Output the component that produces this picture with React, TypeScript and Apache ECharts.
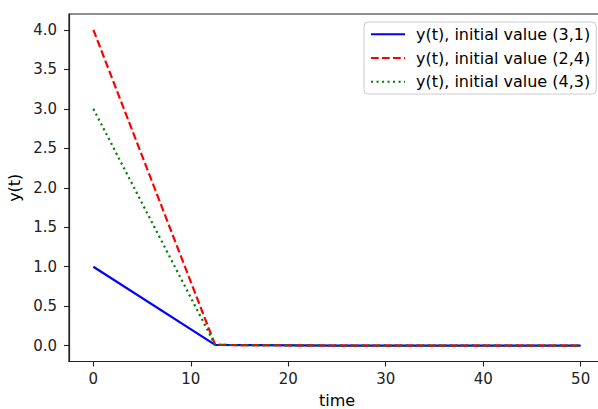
import React, { useEffect, useRef } from "react";
import * as echarts from "echarts";

const timePoints = [0, 12.5, 25, 37.5, 50];
const seriesNames = [
  "y(t), initial value (3,1)",
  "y(t), initial value (2,4)",
  "y(t), initial value (4,3)",
];
const valuesA = [1.0, 0.01, 0.002, 0.0005, 0.0001];
const valuesB = [4.0, 0.01, 0.002, 0.0005, 0.0001];
const valuesC = [3.0, 0.01, 0.002, 0.0005, 0.0001];
const xTicks = [0, 10, 20, 30, 40, 50];
const yTicks = [0, 0.5, 1, 1.5, 2, 2.5, 3, 3.5, 4];

const FONT = "DejaVu Sans";

export default function App() {
  const ref = useRef<HTMLDivElement>(null);
  useEffect(() => {
    document.body.style.margin = "0";
    const chart = echarts.init(ref.current!, null, { renderer: "svg" });
    const pair = (vals: number[]) => timePoints.map((t, i) => [t, vals[i]]);
    const axisColor = "#222";
    chart.setOption({
      animation: false,
      backgroundColor: "#fff",
      grid: {
        left: 69,
        top: 14,
        right: 0,
        bottom: 47.5,
        show: true,
        borderColor: axisColor,
        borderWidth: 1.2,
        containLabel: false,
        outerBoundsMode: "none",
      },
      legend: {
        orient: "vertical",
        left: 364,
        top: 22,
        padding: [4.3, 6, 4.3, 6],
        itemWidth: 34,
        itemHeight: 16,
        itemGap: 7.7,
        itemStyle: { opacity: 0 },
        backgroundColor: "rgba(255,255,255,0.8)",
        borderColor: "#cccccc",
        borderWidth: 1,
        borderRadius: 4,
        textStyle: {
          fontFamily: FONT,
          fontSize: 16,
          lineHeight: 16,
          color: "#000",
          padding: [0, 0, 0, 6],
        },
        data: seriesNames,
      },
      xAxis: {
        type: "value",
        min: -2.5,
        max: 52.5,
        name: "time",
        nameLocation: "middle",
        nameGap: 31,
        nameTextStyle: { fontFamily: FONT, fontSize: 16, lineHeight: 16, color: "#000" },
        splitLine: { show: false },
        axisLine: { show: true, onZero: false, lineStyle: { color: axisColor, width: 1.2 } },
        axisTick: {
          show: true,
          length: 5,
          customValues: xTicks,
          lineStyle: { color: axisColor, width: 1.1 },
        },
        axisLabel: {
          customValues: xTicks,
          margin: 10,
          fontFamily: FONT,
          fontSize: 15,
          color: "#222",
          formatter: (v: number) => String(v),
        },
      },
      yAxis: {
        type: "value",
        min: -0.2,
        max: 4.2,
        name: "y(t)",
        nameLocation: "middle",
        nameGap: 41,
        nameTextStyle: { fontFamily: FONT, fontSize: 16, lineHeight: 16, color: "#000" },
        splitLine: { show: false },
        axisLine: { show: true, onZero: false, lineStyle: { color: axisColor, width: 1.2 } },
        axisTick: {
          show: true,
          length: 5,
          customValues: yTicks,
          lineStyle: { color: axisColor, width: 1.1 },
        },
        axisLabel: {
          customValues: yTicks,
          margin: 12,
          fontFamily: FONT,
          fontSize: 15,
          color: "#222",
          formatter: (v: number) => v.toFixed(1),
        },
      },
      series: [
        {
          name: seriesNames[0],
          type: "line",
          data: pair(valuesA),
          symbol: "none",
          lineStyle: { color: "#0000ff", width: 2.2, type: "solid", cap: "butt" },
          itemStyle: { color: "#0000ff" },
          z: 2,
        },
        {
          name: seriesNames[1],
          type: "line",
          data: pair(valuesB),
          symbol: "none",
          lineStyle: { color: "#ff0000", width: 2.2, type: [7.7, 3.3], cap: "butt" },
          itemStyle: { color: "#ff0000" },
          z: 3,
        },
        {
          name: seriesNames[2],
          type: "line",
          data: pair(valuesC),
          symbol: "none",
          lineStyle: { color: "#008000", width: 2.2, type: [2.1, 3.4], cap: "butt" },
          itemStyle: { color: "#008000" },
          z: 4,
        },
      ],
    });
    return () => chart.dispose();
  }, []);
  return (
    <div style={{ width: 598, height: 409, overflow: "hidden" }}>
      <div ref={ref} style={{ width: 605, height: 409 }} />
    </div>
  );
}
